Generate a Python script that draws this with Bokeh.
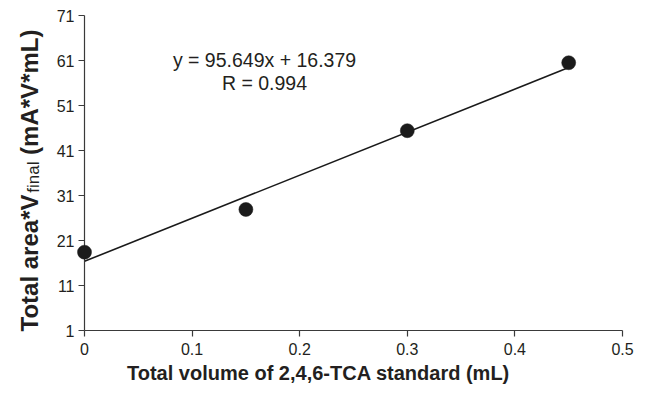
from bokeh.plotting import figure
from bokeh.models import Range1d, FixedTicker, Label
from bokeh.core.properties import value
from bokeh.embed import file_html
from bokeh.resources import INLINE
import math

# ---- data ----
volume_ml = [0.0, 0.15, 0.30, 0.45]
area_vfinal = [18.4, 27.9, 45.4, 60.5]
slope = 95.649
intercept = 16.379
fit_x = [0.0, 0.45]
x_ticks = [0, 0.1, 0.2, 0.3, 0.4, 0.5]
x_tick_labels = ["0", "0.1", "0.2", "0.3", "0.4", "0.5"]
y_ticks = [1, 11, 21, 31, 41, 51, 61, 71]
x_title = "Total volume of 2,4,6-TCA standard (mL)"
y_title_main = "Total area*V"
y_title_sub = "final"
y_title_tail = "(mA*V*mL)"
equation = "y = 95.649x + 16.379"
r_label = "R = 0.994"

FONT = "Liberation Sans"
AXIS_COL = "#3a3a3a"
TEXT_COL = "#231f20"

W, H = 647, 394
L, R, T, B = 84, 25, 15, 64
p = figure(width=W, height=H, output_backend="svg", toolbar_location=None,
           x_range=Range1d(0, 0.5), y_range=Range1d(1, 71),
           min_border_left=L, min_border_right=R, min_border_top=T, min_border_bottom=B)
p.outline_line_color = None
p.xgrid.visible = False
p.ygrid.visible = False
p.background_fill_color = "white"
p.border_fill_color = "white"

# fitted line
fit_y = [slope * v + intercept for v in fit_x]
p.line(fit_x, fit_y, line_color="#1a1a1a", line_width=1.6)

# points (overlay level so the x=0 point is not clipped by the frame)
pts = p.scatter(volume_ml, area_vfinal, size=14, fill_color="#1b1b1b",
                line_color="#1b1b1b", line_width=0.5)
pts.level = "overlay"

for ax in (p.xaxis[0], p.yaxis[0]):
    ax.axis_line_color = AXIS_COL
    ax.axis_line_width = 1.2
    ax.major_tick_line_color = AXIS_COL
    ax.major_tick_line_width = 1.2
    ax.major_tick_in = 0
    ax.major_tick_out = 6
    ax.minor_tick_line_color = None
    ax.major_label_text_font = FONT
    ax.major_label_text_font_size = "16px"
    ax.major_label_text_color = TEXT_COL

p.xaxis.ticker = FixedTicker(ticks=x_ticks)
p.xaxis.major_label_overrides = {t: s for t, s in zip(x_ticks, x_tick_labels)}
p.xaxis.major_label_standoff = 6
p.yaxis.ticker = FixedTicker(ticks=y_ticks)
p.yaxis.major_label_standoff = 4

# anchor of the titles: bottom-left corner of the plotting area
x0, y0 = x_ticks[0], y_ticks[0]

# x axis title (centred on the whole chart, as in the reference)
xt = p.text(x=[x0], y=[y0], text=[x_title], x_offset=234, y_offset=42,
            text_font=value(FONT), text_font_size=value("20px"), text_font_style="bold",
            text_color=TEXT_COL, text_align="center", text_baseline="alphabetic")
xt.level = "overlay"

# y axis title with subscript, built from three rotated texts
def em_width(s, bold):
    reg = {"T": .611, "o": .556, "t": .278, "a": .556, "l": .222, " ": .278, "r": .333,
           "e": .556, "*": .389, "V": .667, "f": .278, "i": .222, "n": .556, "(": .333,
           "m": .833, "A": .667, "L": .556, ")": .333}
    bld = {"T": .611, "o": .611, "t": .333, "a": .556, "l": .278, " ": .278, "r": .389,
           "e": .556, "*": .389, "V": .667, "f": .333, "i": .278, "n": .611, "(": .333,
           "m": .889, "A": .722, "L": .611, ")": .333}
    tab = bld if bold else reg
    return sum(tab.get(c, .556) for c in s)

main_size, sub_size = 24, 17
w_main = em_width(y_title_main, True) * main_size
w_sub = em_width(y_title_sub, False) * sub_size
w_gap = 0.278 * main_size
w_tail = em_width(y_title_tail, True) * main_size
total = w_main + w_sub + w_gap + w_tail
centre_from_bottom = 330 - 180
start = -(centre_from_bottom - total / 2)
base_dx = -55
pieces = [
    (y_title_main, base_dx, start, main_size, "bold"),
    (y_title_sub, base_dx + 4, start - w_main, sub_size, "normal"),
    (y_title_tail, base_dx, start - w_main - w_sub - w_gap, main_size, "bold"),
]
for txt, dx, dy, fs, style in pieces:
    r = p.text(x=[x0], y=[y0], text=[txt], x_offset=dx, y_offset=dy, angle=math.pi / 2,
               text_font=value(FONT), text_font_size=value(f"{fs}px"), text_font_style=style,
               text_color=TEXT_COL, text_align="left", text_baseline="alphabetic")
    r.level = "overlay"

# regression annotation
eq_common = dict(x_units="screen", y_units="screen", text_font=FONT, text_color=TEXT_COL,
                 text_font_size="19.5px", text_align="center", text_baseline="alphabetic")
p.add_layout(Label(x=180, y=H - B - 59, text=equation, **eq_common))
p.add_layout(Label(x=180, y=H - B - 82, text=r_label, **eq_common))

open("out.html", "w").write(file_html(p, INLINE))
